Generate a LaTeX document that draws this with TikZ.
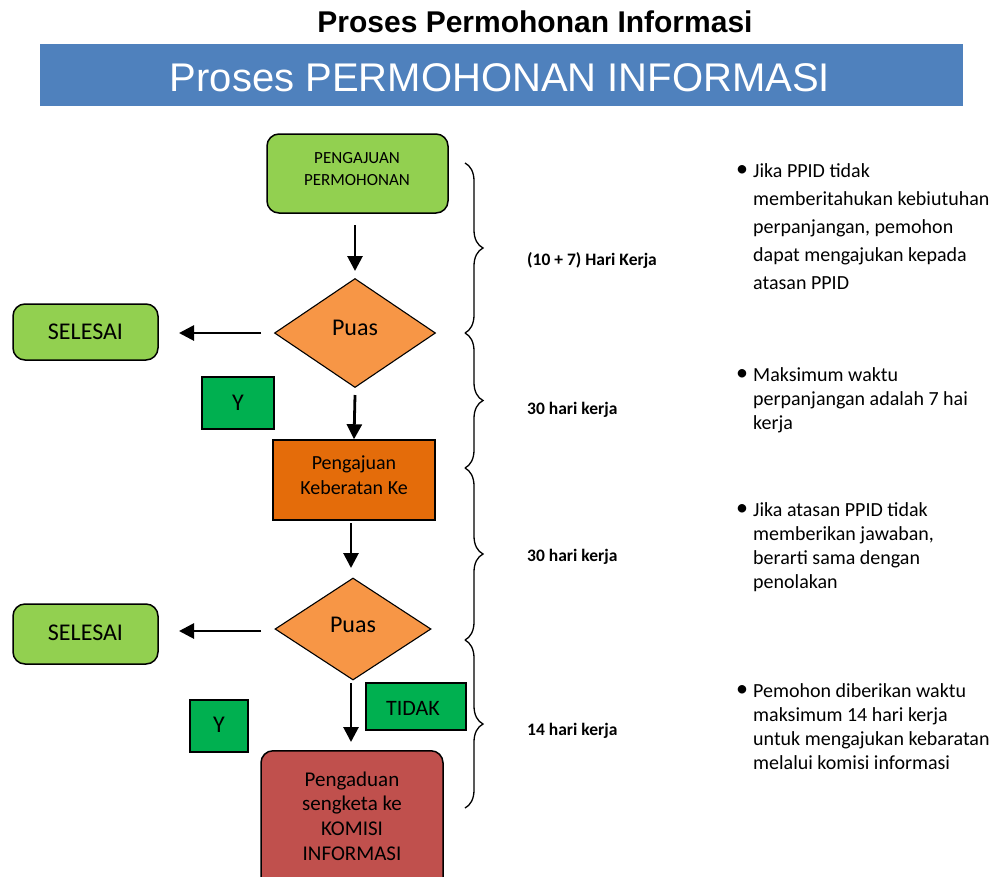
\documentclass[tikz,border=0pt]{standalone}
\usepackage{fontspec}
\setmainfont{Carlito}
\newfontfamily\arialf{Liberation Sans}
\usetikzlibrary{shapes.geometric,arrows.meta,decorations.pathreplacing}
\definecolor{lgreen}{HTML}{92D050}
\definecolor{dorange}{HTML}{F79646}
\definecolor{rorange}{HTML}{E46C0A}
\definecolor{kred}{HTML}{C0504D}
\definecolor{ygreen}{HTML}{00B050}
\definecolor{bandblue}{HTML}{4F81BD}
\tikzset{
  rbox/.style={draw=black,line width=1.5pt,rounded corners=12pt,inner sep=0pt},
  sbox/.style={draw=black,line width=1.5pt,inner sep=0pt},
  dia/.style={draw=black,line width=1.1pt,diamond,aspect=1.5,fill=dorange,inner sep=0pt},
  txt/.style={align=center,inner sep=0pt},
  flow/.style={line width=2.8pt,-{Triangle[width=15pt,length=15pt]}},
  brc/.style={draw=black,line width=1.3pt,decorate,decoration={brace,amplitude=18pt}},
  lab/.style={font=\bfseries\fontsize{17.5}{20}\selectfont,anchor=west,inner sep=0pt},
  note/.style={anchor=north west,align=left,inner sep=0pt},
  bul/.style={anchor=center,inner sep=0pt,font=\fontsize{24}{28}\selectfont}
}
\begin{document}
\begin{tikzpicture}[x=1pt,y=-1pt]
\useasboundingbox[fill=white] (0,0) rectangle (998,876);
% title
\node (title) at (535,22) {\arialf\bfseries\fontsize{30}{34}\selectfont Proses Permohonan Informasi};
\node[fill=bandblue,minimum width=923pt,minimum height=62pt,inner sep=0pt,anchor=north west] (band) at (40,44) {};
\node[text=white] (bandt) at (500,78) {\arialf\fontsize{40}{46}\selectfont Proses PERMOHONAN INFORMASI};
% flow nodes
\node[rbox,fill=lgreen,minimum width=181pt,minimum height=79pt] (p1) at (357.5,173.5) {};
\node[txt,font=\fontsize{17}{22}\selectfont] (p1t) at (357,169) {PENGAJUAN\\PERMOHONAN};
\node[dia,minimum width=161pt,minimum height=109pt] (d1) at (355,333) {};
\node[txt,font=\fontsize{24}{28}\selectfont] (d1t) at (355,328) {Puas};
\node[rbox,fill=lgreen,minimum width=145pt,minimum height=56pt] (s1) at (85.5,332) {};
\node[txt,font=\fontsize{24}{28}\selectfont] (s1t) at (85.5,332) {SELESAI};
\node[sbox,fill=ygreen,minimum width=72pt,minimum height=52pt] (y1) at (238,403) {};
\node[txt,font=\fontsize{24}{28}\selectfont] (y1t) at (238,403) {Y};
\node[sbox,fill=rorange,minimum width=162pt,minimum height=80pt] (k1) at (354,480) {};
\node[txt,font=\fontsize{20}{25}\selectfont] (k1t) at (354,475.5) {Pengajuan\\Keberatan Ke};
\node[dia,minimum width=156pt,minimum height=102pt] (d2) at (353,629) {};
\node[txt,font=\fontsize{24}{28}\selectfont] (d2t) at (353,625) {Puas};
\node[rbox,fill=lgreen,minimum width=145pt,minimum height=60pt] (s2) at (85.5,634) {};
\node[txt,font=\fontsize{24}{28}\selectfont] (s2t) at (85.5,633) {SELESAI};
\node[sbox,fill=ygreen,minimum width=100pt,minimum height=47pt] (td) at (416,706.5) {};
\node[txt,font=\fontsize{22}{26}\selectfont] (tdt) at (413,708) {TIDAK};
\node[sbox,fill=ygreen,minimum width=58pt,minimum height=52pt] (y2) at (219,726) {};
\node[txt,font=\fontsize{24}{28}\selectfont] (y2t) at (219,725) {Y};
\node[rbox,fill=kred,minimum width=182pt,minimum height=140pt,anchor=north] (kb) at (352,750) {};
\node[txt,font=\fontsize{21}{24.7}\selectfont] (kbt) at (352,816) {Pengaduan\\sengketa ke\\KOMISI\\INFORMASI};
% connectors
\coordinate (a1s) at (355,225);
\coordinate (a1e) at (355,271);
\draw[flow] (a1s) -- (a1e);
\coordinate (a2s) at (355,395);
\draw[flow] (a2s) -- (k1.north);
\coordinate (a3s) at (351,523);
\coordinate (a3e) at (351,568);
\draw[flow] (a3s) -- (a3e);
\coordinate (a4s) at (351,683);
\coordinate (a4e) at (351,742);
\draw[flow] (a4s) -- (a4e);
\coordinate (l1s) at (261,333);
\coordinate (l1e) at (179,333);
\draw[flow] (l1s) -- (l1e);
\coordinate (l2s) at (261,631);
\coordinate (l2e) at (179,631);
\draw[flow] (l2s) -- (l2e);
% braces
\draw[brc] (465,163) -- (465,333);
\draw[brc] (465,333) -- (465,468);
\draw[brc] (465,468) -- (465,640);
\draw[brc] (465,640) -- (465,808);
\node[lab] (b1) at (527,260) {(10 + 7) Hari Kerja};
\node[lab] (b2) at (527,410) {30 hari kerja};
\node[lab] (b3) at (527,557) {30 hari kerja};
\node[lab] (b4) at (527,731) {14 hari kerja};
% notes
\node[bul] (u1) at (742,171) {•};
\node[note,font=\fontsize{20}{28.2}\selectfont] (n1) at (753,163) {Jika PPID tidak\\memberitahukan kebiutuhan\\perpanjangan, pemohon\\dapat mengajukan kepada\\atasan PPID};
\node[bul] (u2) at (742,375) {•};
\node[note,font=\fontsize{20}{24}\selectfont] (n2) at (753,367) {Maksimum waktu\\perpanjangan adalah 7 hai\\kerja};
\node[bul] (u3) at (742,510) {•};
\node[note,font=\fontsize{20}{24}\selectfont] (n3) at (753,502) {Jika atasan PPID tidak\\memberikan jawaban,\\berarti sama dengan\\penolakan};
\node[bul] (u4) at (742,691) {•};
\node[note,font=\fontsize{20}{24}\selectfont] (n4) at (753,683) {Pemohon diberikan waktu\\maksimum 14 hari kerja\\untuk mengajukan kebaratan\\melalui komisi informasi};
\end{tikzpicture}
\end{document}
